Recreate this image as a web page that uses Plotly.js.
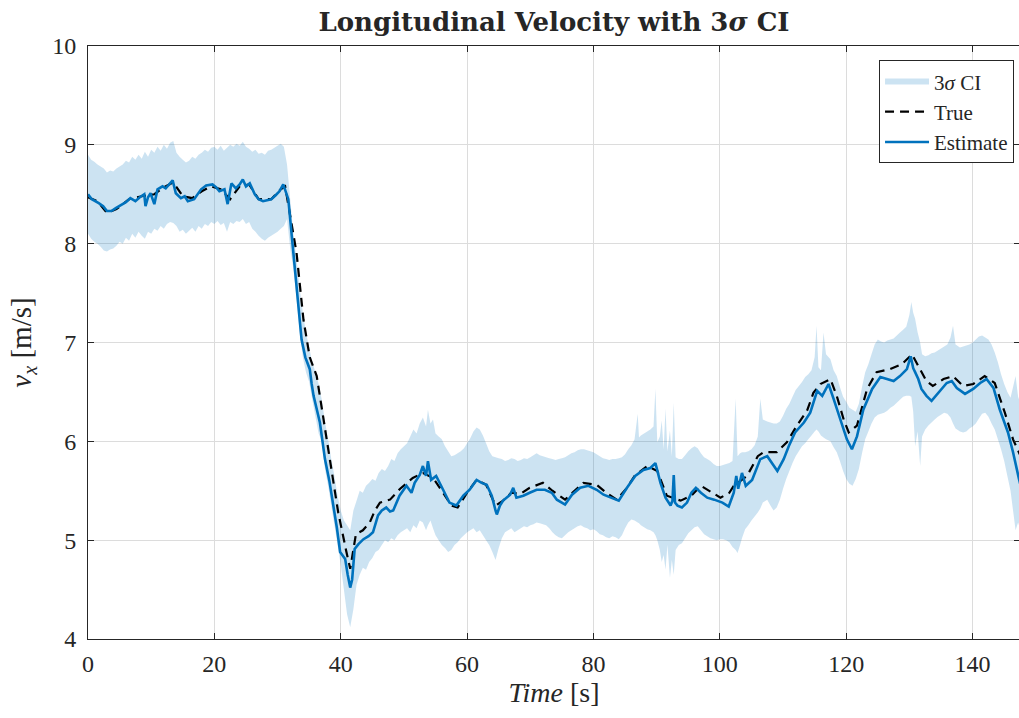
<!DOCTYPE html>
<html>
<head>
<meta charset="utf-8">
<script src="https://cdn.plot.ly/plotly-3.0.1.min.js"></script>
<style>
html,body{margin:0;padding:0;overflow:hidden;background:#fff;}
#chart{width:1021px;height:718px;}
</style>
</head>
<body>
<div id="chart"></div>
<script>
// ---- 3-sigma band (time, upper, lower) ----
const bandT = [0,0.5,1,1.5,2,2.5,3,3.5,4,4.5,5,5.5,6,6.5,7,7.5,8,8.5,9,9.5,10,10.5,11,11.5,12,12.5,13,13.5,14,14.5,15,15.5,16,16.5,17,17.5,18,18.5,19,19.5,20,20.5,21,21.5,22,22.5,23,23.5,24,24.5,25,25.5,26,26.5,27,27.5,28,28.5,29,29.5,30,30.5,31,31.5,32,32.5,33,33.5,34,34.5,35,35.5,36,36.5,37,37.5,38,38.5,39,39.5,40,40.5,41,41.5,42,42.5,43,43.5,44,44.5,45,45.5,46,46.5,47,47.5,48,48.5,49,49.5,50,50.5,51,51.5,52,52.5,53,53.5,53.8,54.2,54.6,55,55.5,56,56.5,57,57.5,58,58.5,59,59.5,60,60.5,61,61.5,62,62.5,63,63.5,64,64.5,65,65.5,66,66.5,67,67.5,68,68.5,69,69.5,70,70.5,71,71.5,72,72.5,73,73.5,74,74.5,75,75.5,76,76.5,77,77.5,78,78.5,79,79.5,80,80.5,81,81.5,82,82.5,83,83.5,84,84.5,85,85.5,86,86.5,87,87.2,87.5,88,88.5,89,89.5,89.8,90.1,90.5,90.8,91.1,91.4,91.7,92.1,92.4,92.7,93,93.5,94,94.5,95,95.5,96,96.5,97,97.5,98,98.5,99,99.5,100,100.5,101,101.5,102,102.5,102.8,103.2,103.5,104,104.5,105,105.5,106,106.4,106.8,107.5,108,108.5,109,109.5,110,110.5,111,111.5,112,112.5,113,113.5,114,114.5,115,115.3,115.6,116,116.4,116.8,117.5,118,118.5,119,119.5,120,120.5,121,121.5,122,122.5,123,123.5,124,124.5,125,125.5,126,126.5,127,127.5,128,128.5,129,129.5,130,130.3,130.6,130.9,131.3,131.7,132,132.5,133,133.5,134,134.5,135,135.5,136,136.5,136.9,137.3,138,138.5,139,139.5,140,140.5,141,141.5,142,142.5,143,143.5,144,144.5,145,145.5,146,146.4,146.8,147.2,147.5];
const bandUpper = [8.90,8.85,8.83,8.80,8.78,8.76,8.72,8.74,8.73,8.76,8.78,8.80,8.84,8.82,8.88,8.85,8.90,8.86,8.93,8.88,8.95,8.92,8.98,8.94,9.00,8.96,9.02,9.04,8.92,8.88,8.85,8.82,8.84,8.88,8.86,8.90,8.92,8.95,8.93,8.97,8.98,8.95,8.99,8.94,8.97,9.00,8.98,9.01,8.99,9.03,8.98,8.96,8.93,8.95,8.91,8.92,8.90,8.94,8.95,8.97,8.99,9.01,8.98,8.80,8.45,8.10,7.85,7.55,7.30,7.10,6.95,6.80,6.70,6.58,6.42,6.20,6.02,5.82,5.65,5.45,5.30,5.20,5.15,5.10,5.30,5.40,5.50,5.48,5.55,5.58,5.62,5.60,5.68,5.72,5.70,5.75,5.82,5.80,5.88,5.92,5.95,5.98,6.05,6.12,6.08,6.18,6.24,6.15,6.32,6.18,6.22,6.08,6.05,6.02,5.95,5.90,5.85,5.86,5.88,5.90,5.93,5.98,6.03,6.10,6.14,6.12,6.06,5.98,5.90,5.85,5.84,5.83,5.82,5.80,5.81,5.83,5.82,5.80,5.81,5.83,5.82,5.84,5.86,5.88,5.86,5.85,5.84,5.83,5.82,5.81,5.82,5.83,5.84,5.86,5.88,5.89,5.91,5.92,5.92,5.91,5.90,5.89,5.87,5.85,5.83,5.82,5.81,5.82,5.82,5.83,5.84,5.87,5.92,5.96,6.02,6.28,6.04,6.06,6.08,6.10,6.12,6.15,6.53,5.99,6.05,6.21,5.92,6.33,5.90,6.11,5.85,6.39,5.84,5.82,5.82,5.86,5.90,5.93,5.95,5.93,5.88,5.84,5.82,5.80,5.77,5.75,5.75,5.76,5.77,5.78,5.80,6.43,5.85,5.88,5.89,5.89,5.90,5.92,5.96,6.05,6.43,6.22,6.20,6.19,6.18,6.18,6.20,6.26,6.33,6.38,6.45,6.52,6.56,6.60,6.65,6.68,6.72,6.85,7.17,6.75,6.72,7.10,6.88,6.83,6.72,6.66,6.55,6.45,6.40,6.34,6.32,6.30,6.38,6.55,6.70,6.78,6.88,6.98,7.03,7.01,7.00,7.02,7.03,7.04,7.07,7.10,7.13,7.16,7.28,7.41,7.30,7.24,7.10,7.00,6.88,6.86,6.87,6.89,6.90,6.92,6.94,6.96,6.98,7.05,7.17,6.98,6.95,6.96,6.97,6.98,7.00,7.03,7.06,7.07,7.05,7.03,6.98,6.90,6.80,6.68,6.58,6.50,6.44,6.55,6.66,6.45,6.40];
const bandLower = [8.10,8.05,8.02,8.00,7.97,7.93,7.92,7.94,7.95,7.98,8.02,8.00,8.06,8.03,8.10,8.06,8.12,8.08,8.05,8.12,8.10,8.15,8.13,8.18,8.15,8.20,8.22,8.21,8.18,8.12,8.14,8.10,8.13,8.16,8.12,8.18,8.15,8.20,8.18,8.22,8.20,8.23,8.19,8.21,8.12,8.22,8.20,8.23,8.22,8.25,8.20,8.22,8.15,8.12,8.08,8.05,8.03,8.06,8.08,8.10,8.12,8.15,8.18,8.25,7.95,7.75,7.45,7.10,6.85,6.70,6.60,6.42,6.25,6.08,6.00,5.72,5.55,5.35,5.15,4.95,4.75,4.50,4.25,4.12,4.30,4.55,4.65,4.72,4.70,4.78,4.82,4.88,4.90,4.95,5.00,4.98,5.02,5.00,5.05,5.08,5.10,5.12,5.08,5.15,5.12,5.20,5.18,5.10,5.15,5.20,5.12,5.05,5.00,4.95,4.92,4.88,4.90,4.95,4.98,5.02,5.05,5.08,5.10,5.12,5.08,5.10,5.05,5.00,4.95,4.88,4.80,4.92,5.02,5.08,5.10,5.12,5.08,5.10,5.12,5.14,5.13,5.15,5.16,5.18,5.17,5.16,5.15,5.12,5.08,5.05,5.03,5.02,5.05,5.08,5.10,5.12,5.14,5.15,5.13,5.12,5.10,5.11,5.09,5.06,5.05,5.03,5.02,5.04,5.03,5.01,5.05,5.12,5.18,5.21,5.20,5.18,5.17,5.15,5.13,5.11,5.10,5.08,5.05,5.00,4.90,4.78,4.85,4.70,4.95,4.62,4.80,4.65,4.90,4.95,4.97,5.02,5.07,5.10,5.13,5.14,5.10,5.06,5.04,5.02,5.01,5.00,5.01,5.01,5.00,4.98,4.93,4.90,4.87,4.95,5.02,5.11,5.15,5.20,5.24,5.28,5.32,5.38,5.41,5.35,5.30,5.33,5.41,5.52,5.62,5.70,5.78,5.85,5.90,5.95,5.98,6.02,6.06,6.10,6.12,6.10,6.06,6.04,6.02,6.00,5.94,5.89,5.80,5.70,5.62,5.57,5.55,5.62,5.72,5.88,6.02,6.10,6.18,6.24,6.27,6.28,6.29,6.31,6.34,6.36,6.39,6.42,6.45,6.46,6.46,6.45,6.30,5.95,6.10,5.75,6.05,6.12,6.16,6.19,6.22,6.25,6.27,6.29,6.28,6.24,6.18,6.13,6.10,6.09,6.10,6.13,6.15,6.18,6.23,6.28,6.29,6.25,6.18,6.12,6.02,5.92,5.80,5.65,5.50,5.30,5.10,5.18,5.12];

// ---- estimate ----
const estT = [0,0.6,1.7,2.4,3.0,3.7,4.4,5.4,6.0,6.7,7.5,8.2,8.9,9.1,9.5,9.9,10.5,11.0,11.8,12.3,12.8,13.4,13.9,14.7,15.3,15.8,16.8,17.4,17.9,18.7,19.7,20.3,20.8,21.6,22.1,22.7,23.4,24.0,24.5,25.0,25.6,26.4,27.0,27.7,28.4,29.0,29.7,30.3,30.9,31.4,31.7,32.5,33.3,33.8,34.4,35.1,35.4,35.7,36.7,37.5,38.2,38.8,39.4,39.9,40.7,41.1,41.5,41.8,42.2,42.8,43.6,44.4,45.1,45.9,46.5,47.2,47.8,48.3,49.3,50.4,51.2,51.7,52.5,53.0,53.5,53.8,54.3,55.1,55.6,56.2,57.2,58.3,59.4,60.4,61.5,62.3,63.1,63.9,64.5,64.7,65.2,65.7,66.8,67.3,67.8,68.9,69.9,71.0,72.3,73.4,74.2,75.5,76.6,77.9,79.2,80.5,81.6,82.9,84.0,85.3,86.6,87.9,89.0,89.8,90.6,91.4,92.2,92.5,92.7,92.9,93.3,94.0,94.8,95.5,96.2,97.0,98.0,99.1,100.4,101.4,102.2,102.6,102.9,103.5,104.1,105.1,105.8,106.4,107.5,108.3,109.1,110.1,110.9,111.9,113.3,114.3,115.4,116.2,117.2,118.0,119.1,120.1,120.9,121.7,122.7,124.1,125.4,126.4,127.5,128.5,129.6,130.2,130.6,130.9,131.4,131.9,132.7,133.5,134.6,135.9,136.7,137.5,138.8,140.1,141.2,142.2,143.3,144.3,145.6,146.4,147.3,147.6];
const estV = [8.50,8.45,8.41,8.38,8.33,8.33,8.36,8.40,8.42,8.46,8.43,8.47,8.50,8.38,8.47,8.51,8.40,8.55,8.58,8.56,8.60,8.64,8.51,8.46,8.48,8.43,8.45,8.50,8.55,8.59,8.60,8.57,8.53,8.55,8.40,8.61,8.56,8.60,8.65,8.58,8.61,8.50,8.45,8.43,8.44,8.45,8.49,8.53,8.60,8.51,8.45,7.91,7.40,7.03,6.85,6.73,6.58,6.46,6.19,5.82,5.60,5.38,5.12,4.88,4.81,4.65,4.52,4.60,4.91,4.96,5.01,5.04,5.08,5.25,5.30,5.33,5.29,5.30,5.45,5.55,5.48,5.58,5.66,5.75,5.65,5.80,5.61,5.65,5.58,5.51,5.38,5.35,5.45,5.51,5.61,5.58,5.56,5.45,5.30,5.26,5.35,5.40,5.46,5.53,5.43,5.45,5.48,5.51,5.51,5.48,5.41,5.36,5.46,5.53,5.55,5.51,5.46,5.43,5.40,5.53,5.65,5.71,5.73,5.78,5.58,5.43,5.35,5.40,5.66,5.38,5.35,5.33,5.38,5.48,5.53,5.48,5.43,5.41,5.38,5.34,5.48,5.65,5.52,5.68,5.55,5.61,5.72,5.82,5.85,5.78,5.70,5.82,5.95,6.09,6.19,6.29,6.51,6.46,6.58,6.43,6.22,6.02,5.92,6.05,6.32,6.53,6.65,6.63,6.61,6.66,6.73,6.86,6.74,6.70,6.63,6.53,6.46,6.41,6.49,6.59,6.61,6.54,6.48,6.53,6.59,6.63,6.54,6.32,6.09,5.89,5.63,5.55];

// ---- true ----
const trueT = [0,1.5,3.0,4.5,6.5,8.5,10.5,12,13.5,15,16.5,18,19.5,21,22.5,24,25.5,27,29,30.5,31.2,32,33,34.1,35.1,36.2,37.2,38.3,39.6,40.9,41.5,42.4,43.5,44.6,45.4,46.2,47.8,49.4,51.4,53,54.6,56.2,57.5,58.5,60,61.5,63,64.5,65.7,67,68.5,69.9,72,73.5,75.5,77,78.4,80.5,82,83.7,85.3,86.5,88.5,90.1,91.6,93.8,95.5,97.0,98.3,100.1,101.5,102.2,104.3,106.0,106.9,109.0,110.6,112.2,113.8,114.8,115.9,117.5,118.5,119.6,120.4,121.7,123.3,124.8,126.9,128.8,130.4,131.4,132.7,133.7,135.4,136.9,138.5,140.1,141.9,143.5,145.1,146.4,147.6];
const trueV = [8.47,8.43,8.31,8.35,8.45,8.48,8.50,8.57,8.62,8.48,8.46,8.53,8.58,8.55,8.45,8.58,8.60,8.45,8.45,8.55,8.58,8.30,7.91,7.23,6.85,6.66,6.25,5.78,5.28,4.88,4.71,5.06,5.10,5.18,5.30,5.38,5.41,5.52,5.63,5.68,5.63,5.48,5.35,5.33,5.48,5.61,5.56,5.35,5.40,5.48,5.47,5.53,5.58,5.50,5.41,5.50,5.58,5.56,5.48,5.41,5.53,5.65,5.75,5.70,5.45,5.40,5.45,5.55,5.50,5.43,5.48,5.55,5.65,5.85,5.89,5.89,5.99,6.16,6.31,6.49,6.58,6.63,6.46,6.22,6.09,6.16,6.53,6.70,6.73,6.78,6.88,6.76,6.61,6.56,6.63,6.66,6.56,6.58,6.66,6.59,6.29,6.02,5.85];

const SERIF = 'Liberation Serif';
const TITLEFONT = 'DejaVu Serif';
const AX = '#262626';

const bandX = bandT.concat(bandT.slice().reverse());
const bandY = bandUpper.concat(bandLower.slice().reverse());

const traces = [
  {x: bandX, y: bandY, type: 'scatter', mode: 'none', fill: 'toself',
   fillcolor: 'rgba(0,114,189,0.2)', name: '3<i>σ</i> CI', hoverinfo: 'skip'},
  {x: trueT, y: trueV, type: 'scatter', mode: 'lines', name: 'True',
   line: {color: '#000000', width: 2.2, dash: '9px,6px'}},
  {x: estT, y: estV, type: 'scatter', mode: 'lines', name: 'Estimate',
   line: {color: '#0072BD', width: 2.6}}
];

const axisCommon = {
  showline: true, linecolor: AX, linewidth: 1, mirror: 'ticks',
  ticks: 'inside', ticklen: 6, tickcolor: AX, tickwidth: 1,
  showgrid: true, gridcolor: '#dcdcdc', gridwidth: 1, zeroline: false,
  tickfont: {family: SERIF, size: 24, color: AX}
};

const layout = {
  width: 1021, height: 718,
  margin: {l: 88, r: 1, t: 46, b: 79},
  paper_bgcolor: '#ffffff', plot_bgcolor: '#ffffff',
  font: {family: SERIF, color: AX},
  title: {text: '<b>Longitudinal Velocity with 3<i>σ</i> CI</b>',
          font: {family: TITLEFONT, size: 26, color: AX},
          x: 0.5, xref: 'paper', y: 0.969, yref: 'container', yanchor: 'middle'},
  xaxis: Object.assign({}, axisCommon, {
    range: [0, 147.5], tick0: 0, dtick: 20, ticklabelstandoff: 3,
    title: {text: '<i>Time</i> [s]', font: {family: SERIF, size: 28, color: AX}, standoff: 6}
  }),
  yaxis: Object.assign({}, axisCommon, {
    range: [4, 10], tick0: 4, dtick: 1, ticklabelstandoff: 6,
    title: {text: '<i>v</i><sub><i>x</i></sub> [m/s]', font: {family: SERIF, size: 29, color: AX}, standoff: 12}
  }),
  showlegend: true,
  legend: {x: 0.9936, xanchor: 'right', y: 0.976, yanchor: 'top',
           bgcolor: '#ffffff', bordercolor: AX, borderwidth: 1, itemwidth: 44,
           font: {family: SERIF, size: 21, color: AX}, traceorder: 'normal'}
};

Plotly.newPlot('chart', traces, layout, {staticPlot: true, displayModeBar: false});
</script>
</body>
</html>
